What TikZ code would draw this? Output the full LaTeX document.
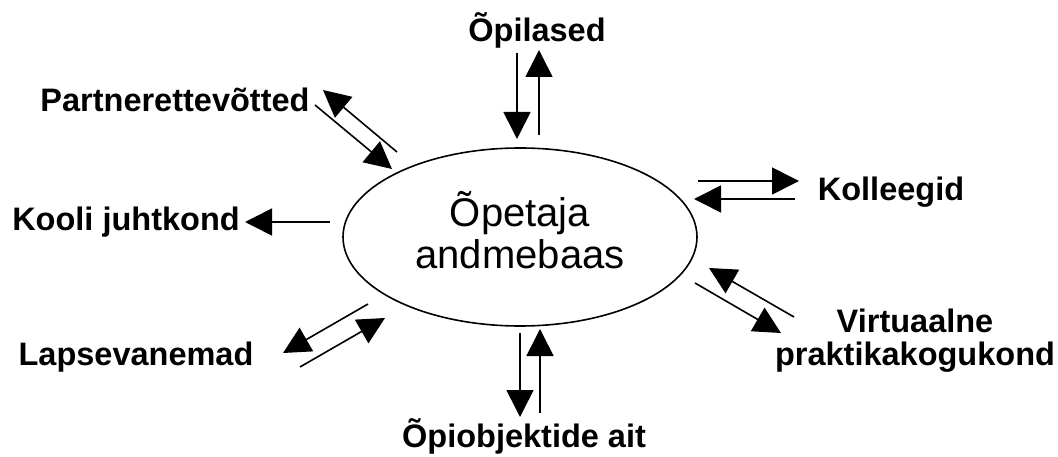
\documentclass[tikz,border=0pt]{standalone}
\usepackage{fontspec}
\setmainfont{Liberation Sans}
\usetikzlibrary{arrows.meta,shapes.geometric}

\begin{document}
\begin{tikzpicture}[x=1pt,y=-1pt,
  line width=1.6pt,
  flow/.style={-{Triangle[length=27pt,width=27pt]}},
  party/.style={font=\fontsize{32.5}{33}\selectfont\bfseries,inner sep=0pt,align=center}]
\useasboundingbox (0,0) rectangle (1058,457);
% the database in the middle
\node (db) [draw,ellipse,minimum width=354pt,minimum height=178pt] at (520,237) {};
\node (db-text) [font=\fontsize{40}{42}\selectfont,align=center,yshift=7pt] at (db.center) {Õpetaja\\andmebaas};
% the parties round it
\node (pil) [party] at (537,30) {Õpilased};
\node (partner) [party] at (175,100) {Partnerettevõtted};
\node (koll) [party] at (891,192) {Kolleegid};
\node (juht) [party] at (126,222) {Kooli juhtkond};
\node (vanem) [party] at (136,357) {Lapsevanemad};
\node (virt) [party] at (915,341) {Virtuaalne\\praktikakogukond};
\node (ait) [party] at (524,436) {Õpiobjektide ait};
% arrow ends
\coordinate (pil-a) at (517,53);  \coordinate (pil-b) at (517,139);
\coordinate (pil-c) at (539,135); \coordinate (pil-d) at (539,50);
\coordinate (partner-a) at (397,152); \coordinate (partner-b) at (323,90);
\coordinate (partner-c) at (315,105); \coordinate (partner-d) at (392,169);
\coordinate (koll-a) at (698,181); \coordinate (koll-b) at (799,181);
\coordinate (koll-c) at (795,199); \coordinate (koll-d) at (694,199);
\coordinate (juht-a) at (330,222); \coordinate (juht-b) at (245,222);
\coordinate (vanem-a) at (368,304); \coordinate (vanem-b) at (283,353);
\coordinate (vanem-c) at (300,367); \coordinate (vanem-d) at (385,318);
\coordinate (virt-a) at (794,317); \coordinate (virt-b) at (709,268);
\coordinate (virt-c) at (695,283); \coordinate (virt-d) at (781,333);
\coordinate (ait-a) at (520,333); \coordinate (ait-b) at (520,417);
\coordinate (ait-c) at (540,413); \coordinate (ait-d) at (540,329);
% the flows
\draw[flow] (pil-a) -- (pil-b);
\draw[flow] (pil-c) -- (pil-d);
\draw[flow] (partner-a) -- (partner-b);
\draw[flow] (partner-c) -- (partner-d);
\draw[flow] (koll-a) -- (koll-b);
\draw[flow] (koll-c) -- (koll-d);
\draw[flow] (juht-a) -- (juht-b);
\draw[flow] (vanem-a) -- (vanem-b);
\draw[flow] (vanem-c) -- (vanem-d);
\draw[flow] (virt-a) -- (virt-b);
\draw[flow] (virt-c) -- (virt-d);
\draw[flow] (ait-a) -- (ait-b);
\draw[flow] (ait-c) -- (ait-d);
\end{tikzpicture}
\end{document}
